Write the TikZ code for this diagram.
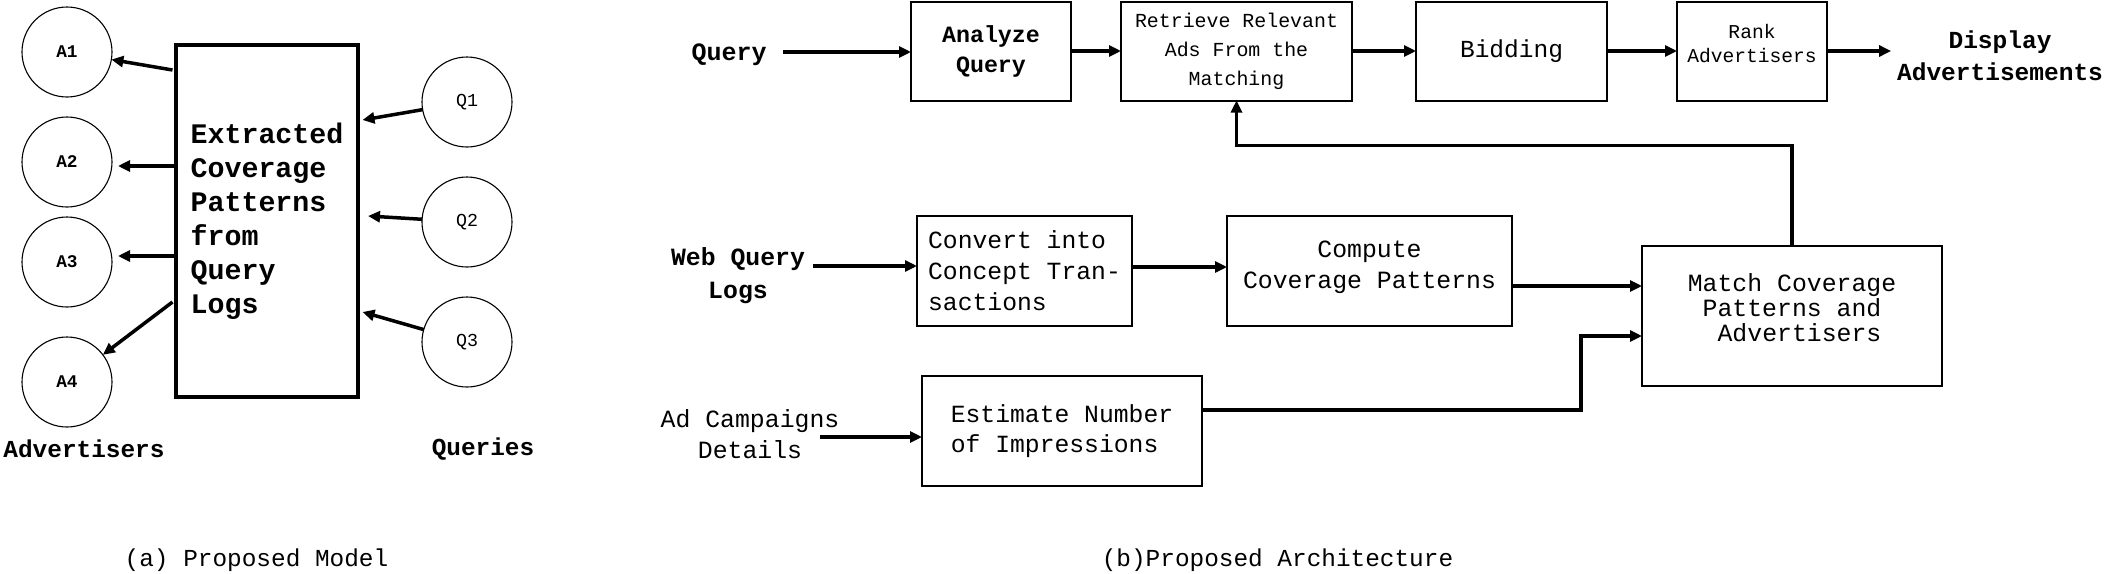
\documentclass[tikz,border=0pt]{standalone}
\usepackage{fontspec}
\setmonofont{Liberation Mono}
\usetikzlibrary{arrows.meta,calc}
\tikzset{
  fnt/.style 2 args={font=\ttfamily\fontsize{#1}{#2}\selectfont},
  fntb/.style 2 args={font=\ttfamily\bfseries\fontsize{#1}{#2}\selectfont},
  box/.style={draw, line width=2pt, rectangle, inner sep=0pt, outer sep=0pt},
  bigbox/.style={draw, line width=3.5pt, rectangle, inner sep=0pt, outer sep=0pt},
  circ/.style={draw, circle, line width=1.1pt, minimum size=90pt, inner sep=0pt, outer sep=0pt},
  arr/.style={line width=3.5pt, -{Triangle[length=12pt,width=11pt]}},
  txt/.style={inner sep=0pt, outer sep=0pt},
}
\begin{document}
\begin{tikzpicture}[x=1pt,y=-1pt]
\useasboundingbox (0,0) rectangle (2109,573);

% ---------- (a) Proposed Model ----------
\node[circ, fntb={17.8}{20}] (A1) at (67,52) {A1};
\node[circ, fntb={17.8}{20}] (A2) at (67,162) {A2};
\node[circ, fntb={17.8}{20}] (A3) at (67,262) {A3};
\node[circ, fntb={17.8}{20}] (A4) at (67,382) {A4};

\node[bigbox, minimum width=182pt, minimum height=352pt, align=left, fntb={28.3}{34}] (big) at (267,221)
  {Extracted\\Coverage\\Patterns\\from\\Query\\Logs};

\node[circ, fnt={18.3}{20}] (Q1) at (467,102) {Q1};
\node[circ, fnt={18.3}{20}] (Q2) at (467,222) {Q2};
\node[circ, fnt={18.3}{20}] (Q3) at (467,342) {Q3};

\node[txt, fntb={24.4}{30}] (adv) at (84,449) {Advertisers};
\node[txt, fntb={24.4}{30}] (queries) at (483,449) {Queries};

\coordinate (a1s) at ($(big.north west)+(-3.5,25)$);
\coordinate (a2s) at ($(big.west)+(0,-55)$);
\coordinate (a3s) at ($(big.west)+(0,35)$);
\coordinate (a4s) at ($(big.north west)+(-3.5,257)$);
\coordinate (q1t) at ($(big.east)+(4.5,-101)$);
\coordinate (q2t) at ($(big.east)+(10,-5)$);
\coordinate (q3t) at ($(big.east)+(4.5,91)$);

\draw[arr] (a1s) -- (A1);
\draw[arr, shorten >=6pt] (a2s) -- (a2s -| A2.east);
\draw[arr, shorten >=6pt] (a3s) -- (a3s -| A3.east);
\draw[arr] (a4s) -- (A4);
\draw[arr] (Q1) -- (q1t);
\draw[arr] (Q2) -- (q2t);
\draw[arr] (Q3) -- (q3t);

\node[txt, fnt={24.4}{30}] (capa) at (256.5,560) {(a) Proposed Model};

% ---------- (b) Proposed Architecture ----------
\node[txt, fntb={25}{30}] (qlabel) at (729,55) {Query};
\node[box, minimum width=160pt, minimum height=99pt, align=center, fntb={23.3}{30}] (analyze) at (991,51) {Analyze\\Query};
\node[box, minimum width=231pt, minimum height=99pt, align=center, fnt={19.9}{29}] (retrieve) at (1236.5,51) {Retrieve Relevant\\Ads From the\\Matching};
\node[box, minimum width=191pt, minimum height=99pt, fnt={24.5}{30}] (bidding) at (1511.5,51) {Bidding};
\node[box, minimum width=150pt, minimum height=99pt, align=center, text depth=16pt, fnt={19.6}{24}] (rank) at (1752,51) {Rank\\Advertisers};
\node[txt, align=center, fntb={24.5}{32}] (display) at (2000,56) {Display\\Advertisements};

\node[txt, align=center, fntb={24.8}{33}] (weblabel) at (738,276) {Web Query\\Logs};
\node[box, minimum width=215pt, minimum height=110pt, align=left, fnt={24.7}{31}] (convert) at (1024.5,271) {Convert into\\Concept Tran-\\sactions};
\node[box, minimum width=285pt, minimum height=110pt, align=center, text depth=13pt, fnt={24.8}{31}] (compute) at (1369.5,271) {Compute\\Coverage Patterns};
\node[box, minimum width=300pt, minimum height=140pt, align=center, text depth=16pt, fnt={24.8}{25}] (match) at (1792,316) {Match Coverage\\Patterns and\\\hphantom{x}Advertisers};

\node[txt, align=center, fnt={24.8}{31}] (adlabel) at (750,434) {Ad Campaigns\\Details};
\node[box, minimum width=280pt, minimum height=110pt, align=left, fnt={24.7}{30}] (estimate) at (1062,431) {Estimate Number\\of Impressions};

\coordinate (qs) at ($(qlabel.east)+(16,-3)$);
\draw[arr] (qs) -- (qs -| analyze.west);
\draw[arr] (analyze) -- (retrieve);
\draw[arr] (retrieve) -- (bidding);
\draw[arr] (bidding) -- (rank);
\draw[arr, shorten >=6pt] (rank) -- (rank -| display.west);

\draw[arr] ($(weblabel.east |- convert.west)+(8,-5)$) -- ($(convert.west)+(0,-5)$);
\draw[arr] ($(convert.east)+(0,-4)$) -- ($(compute.west)+(0,-4)$);
\coordinate (c2m) at ($(compute.east)+(0,15)$);
\draw[arr] (c2m) -- (c2m -| match.west);

\coordinate (adout) at ($(adlabel.east)+(-19,3)$);
\draw[arr] (adout) -- (adout -| estimate.west);
\coordinate (e1) at ($(estimate.east)+(0,-21)$);
\coordinate (m2) at ($(match.west)+(0,20)$);
\draw[arr] (e1) -| ($(m2)+(-61,0)$) -- (m2);

\draw[arr] (match.north) |- ($(retrieve.south)+(0,45)$) -- (retrieve.south);

\node[txt, fnt={24.4}{30}] (capb) at (1277.5,560) {(b)Proposed Architecture};
\end{tikzpicture}
\end{document}
